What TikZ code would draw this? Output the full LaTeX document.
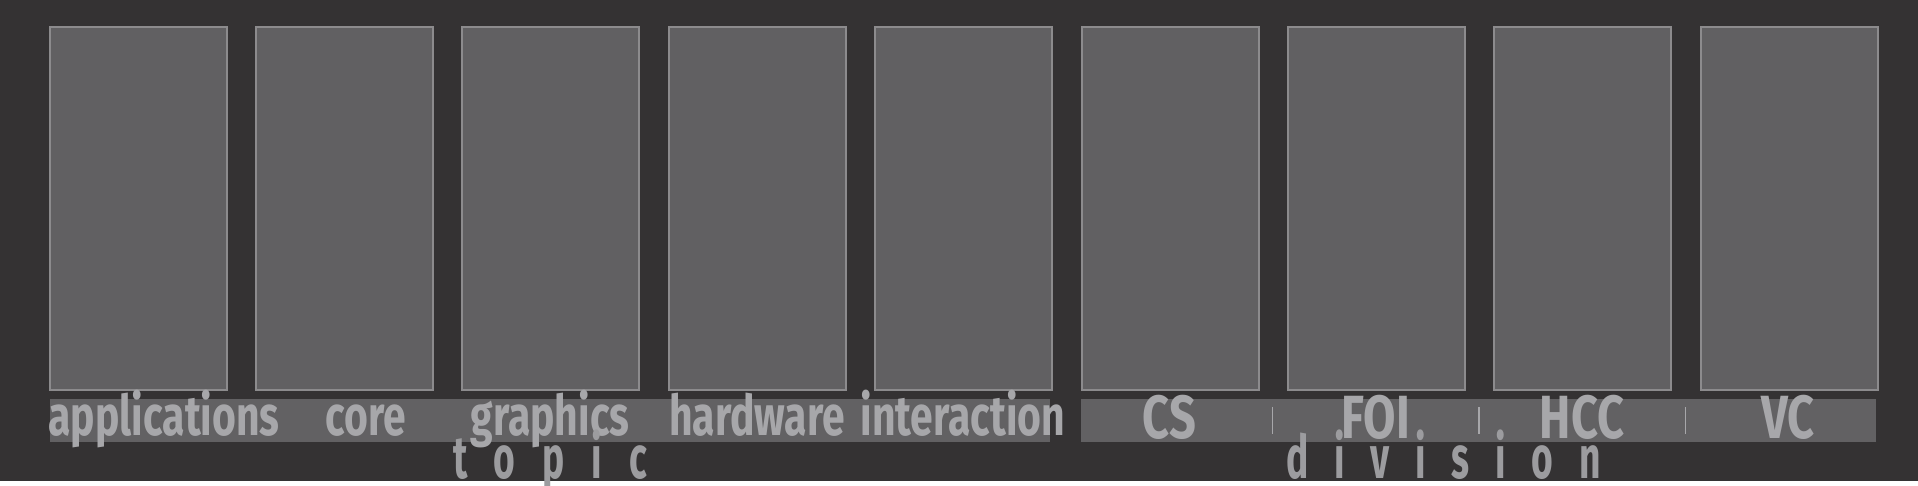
\documentclass[tikz,border=0pt]{standalone}
\usepackage{fontspec}
\newfontfamily\osw[FakeStretch=0.73]{Fira Sans}
\newfontfamily\oswd[FakeStretch=0.77]{Fira Sans}
\newfontfamily\oswsp[FakeStretch=0.62,LetterSpace=45]{Fira Sans}
\newfontfamily\oswspd[FakeStretch=0.62,LetterSpace=43]{Fira Sans}
\definecolor{bg}{HTML}{343233}
\definecolor{boxfill}{HTML}{616062}
\definecolor{boxline}{HTML}{8C8B8D}
\definecolor{strip}{HTML}{626163}
\definecolor{txt}{HTML}{A7A7AA}
\definecolor{txtb}{HTML}{9C9C9F}
\tikzset{
  col/.style={draw=boxline, fill=boxfill, line width=2pt, minimum width=177pt, minimum height=362pt, inner sep=0pt, anchor=north west},
  stripbox/.style={fill=strip, draw=none, inner sep=0pt, anchor=north west, minimum height=43pt},
  lab/.style={text=txt, font=\osw\bfseries\fontsize{56}{60}\selectfont, inner sep=0pt, anchor=base},
  dlab/.style={text=txt, font=\oswd\bfseries\fontsize{61}{64}\selectfont, inner sep=0pt, anchor=base},
  axis/.style={text=txtb, inner sep=0pt, anchor=base west},
  sep/.style={draw=txt, line width=1.5pt}
}
\begin{document}
\begin{tikzpicture}[x=1pt,y=-1pt]
\useasboundingbox (0,0) rectangle (1918,486);
\fill[white] (0,0) rectangle (1918,486);
\fill[bg] (0,0) rectangle (1918,481);
\foreach \i/\n in {0/c1,1/c2,2/c3,3/c4,4/c5,5/c6,6/c7,7/c8,8/c9}{
  \node[col] (\n) at ({48.5+\i*206.4},26.5) {};
}
\node[stripbox, minimum width=1000pt] (ts) at (50,399) {};
\node[stripbox, minimum width=795pt] (ds) at (1081,399) {};
\node[lab] (l1) at (164,435) {applications};
\node[lab] (l2) at (366,435) {core};
\node[lab] (l3) at (550,435) {graphics};
\node[lab] (l4) at (757,435) {hardware};
\node[lab] (l5) at (963,435) {interaction};
\node[dlab] (d1) at (1169.5,438) {CS};
\node[dlab] (d2) at (1376,438) {FOI};
\node[dlab] (d3) at (1582,438) {HCC};
\node[dlab] (d4) at (1788,438) {VC};
\coordinate (s1t) at (1272.5,407); \coordinate (s1b) at (1272.5,434);
\coordinate (s2t) at (1479,407); \coordinate (s2b) at (1479,434);
\coordinate (s3t) at (1685.5,407); \coordinate (s3b) at (1685.5,434);
\draw[sep] (s1t) -- (s1b);
\draw[sep] (s2t) -- (s2b);
\draw[sep] (s3t) -- (s3b);
\node[axis, font=\oswsp\bfseries\fontsize{60}{64}\selectfont] (topic) at (453,478) {topic};
\node[axis, font=\oswspd\bfseries\fontsize{60}{64}\selectfont] (division) at (1286,478) {division};
\end{tikzpicture}
\end{document}
